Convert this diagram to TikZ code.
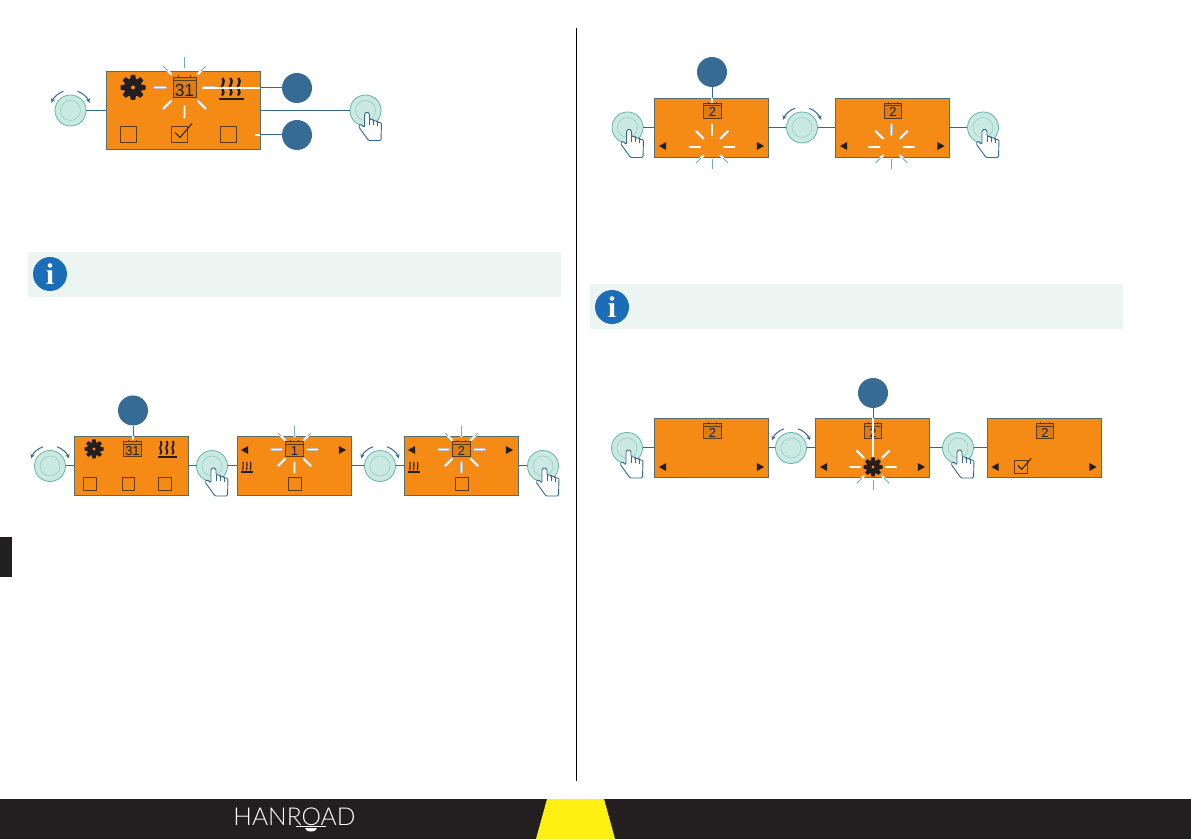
\documentclass[tikz,border=0pt]{standalone}
\usepackage{fontspec}
\setmainfont{Liberation Sans}
\newfontfamily\infofont{Liberation Serif}
\newfontfamily\logofont{Lato Light}
\definecolor{panelorange}{HTML}{F58A14}
\definecolor{panelline}{HTML}{566F6E}
\definecolor{badgeblue}{HTML}{356B95}
\definecolor{linkblue}{HTML}{35688C}
\definecolor{knobfill}{HTML}{C9E9E1}
\definecolor{knobline}{HTML}{63B5A9}
\definecolor{rayteal}{HTML}{6FAFAF}
\definecolor{inkbrown}{HTML}{5E3A18}
\definecolor{inkdark}{HTML}{231F20}
\definecolor{infopanel}{HTML}{EDF5F3}
\definecolor{infoblue}{HTML}{1B6DB8}
\definecolor{footyellow}{HTML}{FFF014}
\tikzset{
  bigscreen/.style={draw=panelline, fill=panelorange, line width=.9pt, inner sep=0pt, minimum width=154pt, minimum height=78pt},
  screen/.style={draw=panelline, fill=panelorange, line width=.9pt, inner sep=0pt, minimum width=114pt, minimum height=59pt},
  knob/.style={circle, draw=knobline, fill=knobfill, line width=.8pt, inner sep=0pt, minimum size=31pt,
    path picture={\draw[knobline!70, line width=.5pt] (path picture bounding box.center) circle (10pt);}},
  badge/.style={circle, fill=badgeblue, inner sep=0pt, minimum size=30pt},
  link/.style={draw=linkblue, line width=1pt},
  leadin/.style={draw=gray!40, double=white, line width=.3pt, double distance=1.8pt},
  rayin/.style={draw=gray!50, double=white, line width=.5pt, double distance=1.5pt, line cap=round},
  rayout/.style={draw=rayteal, line width=.8pt},
  boxmark/.style={draw=inkbrown, line width=.9pt},
  infotile/.style={fill=infopanel, inner sep=0pt, minimum width=533pt, minimum height=45pt},
  infoicon/.style={circle, fill=infoblue, text=white, inner sep=0pt, minimum size=34pt, font=\infofont\bfseries\fontsize{30}{30}\selectfont},
  pics/calendar/.style={code={
    \draw[draw=inkbrown, fill=panelorange!90!black, line width=1pt] (-11.5,-10.5) rectangle (11.5,9.5);
    \draw[draw=inkbrown, line width=1pt] (-11.5,6.5) -- (11.5,6.5) (-6,9.5) -- (-6,12) (6,9.5) -- (6,12);
    \node[text=inkdark, font=\fontsize{17.5}{17.5}\selectfont, inner sep=0pt] (-num) at (0,-2.5) {#1};
  }},
  pics/gear/.style={code={
    \fill[inkdark] (0,0) circle (9);
    \foreach \a in {0,45,...,315}
      \fill[inkdark, rotate=\a] (-3,8) -- (-2.2,12.5) -- (2.2,12.5) -- (3,8) -- cycle;
    \fill[panelorange] (0,0) circle (2);
  }},
  pics/heat/.style={code={
    \draw[inkdark, line width=#1] (-12.5,0) -- (12.5,0);
    \foreach \x in {-8,0,8}
      \draw[inkdark, line width=#1] (\x-1,3.5) .. controls (\x+3.5,8) and (\x-4,11) .. (\x,15) .. controls (\x+1.5,17) and (\x+.5,19) .. (\x-.5,21);
  }},
  pics/tickbox/.style={code={
    \draw[boxmark] (-8,-8) rectangle (8,8);
  }},
  pics/tickmark/.style={code={
    \draw[inkdark, line width=1pt] (-4,2) -- (1,-3) -- (13,11);
  }},
  pics/navleft/.style={code={\fill[inkdark] (-3.6,0) -- (3.6,4) -- (3.6,-4) -- cycle;}},
  pics/navright/.style={code={\fill[inkdark] (3.6,0) -- (-3.6,4) -- (-3.6,-4) -- cycle;}},
  pics/spinmarks/.style={code={
    \draw[linkblue, line width=1pt, ->, >=stealth] (110:20.5) arc (110:158:20.5);
    \draw[linkblue, line width=1pt, ->, >=stealth] (70:20.5) arc (70:22:20.5);
  }},
  pics/hand/.style={code={
    \draw[linkblue, fill=white, line width=.9pt, line join=round, rounded corners=1.2pt]
      (3,-30) -- (-7,-16) -- (-5,-13.5) -- (-1,-17) -- (-1,-3) -- (1.5,-1.5) -- (4,-3) -- (4,-9) -- (8,-9)
      -- (8,-10.5) -- (12,-10.5) -- (12,-12) -- (16,-12) -- (15.5,-30) -- cycle;
    \draw[linkblue, line width=.7pt] (4,-9) -- (4,-15) (8,-10) -- (8,-15) (12,-12) -- (12,-16);
  }},
}
\newcommand{\burstat}[4]{%
  \foreach \a in {0,45,...,315}
    \draw[rayout] (#1) ++(\a:#3) -- ++(\a:#4-#3);
  \begin{scope}
    \clip (#2.south west) rectangle (#2.north east);
    \foreach \a in {0,45,...,315}
      \draw[rayin] (#1) ++(\a:#3) -- ++(\a:#4-#3);
  \end{scope}}
\begin{document}
\begin{tikzpicture}[x=1pt,y=1pt]
\useasboundingbox (0,0) rectangle (1191,839);
% page furniture
\fill[inkdark] (0,0) rectangle (1191,40);
\fill[footyellow] (536,0) -- (547,40) -- (604,40) -- (615,0) -- cycle;
\fill[inkdark] (0,262) rectangle (12,302);
\coordinate (ruletop) at (576,811);
\coordinate (rulebot) at (576,58);
\draw[black, line width=.6pt] (ruletop) -- (rulebot);
\node[text=white, font=\logofont\fontsize{24.6}{24.6}\selectfont, inner sep=0pt] (logo) at (294.5,22) {HANROAD};
\fill[white] (296,13.2) rectangle (326,12.4);
\fill[white] (305,11) arc (180:360:6 and 3.5) -- cycle;
% info tiles
\node[infotile] (infoA) at (294.5,564.5) {};
\node[infoicon] (iconA) at (50,565) {i};
\node[infotile] (infoB) at (856.5,532) {};
\node[infoicon] (iconB) at (612,532) {i};
% screens
\node[bigscreen] (scrA) at (183,728.5) {};
\node[screen] (scrB) at (131,373) {};
\node[screen] (scrC) at (294.5,373) {};
\node[screen] (scrD) at (461.5,373) {};
\node[screen] (scrE) at (711,711.5) {};
\node[screen] (scrF) at (892.5,711.5) {};
\node[screen] (scrG) at (711,391) {};
\node[screen] (scrH) at (872,391) {};
\node[screen] (scrI) at (1044.5,391) {};
% knobs
\node[knob] (spinA) at (70.5,728.5) {};
\node[knob] (pressA) at (365.5,728.5) {};
\node[knob] (spinB) at (50,373) {};
\node[knob] (pressB) at (212,373) {};
\node[knob] (spinC) at (380,373) {};
\node[knob] (pressD) at (543,373) {};
\node[knob] (pressE) at (627.5,711.5) {};
\node[knob] (spinE) at (802,711.5) {};
\node[knob] (pressF) at (983,711.5) {};
\node[knob] (pressG) at (627,391) {};
\node[knob] (spinG) at (791,391) {};
\node[knob] (pressH) at (958,391) {};
% links
\draw[link] (spinA) -- (scrA);
\draw[link] (scrA) -- (pressA);
\draw[link] (spinB) -- (scrB);
\draw[link] (scrB) -- (pressB);
\draw[link] (pressB) -- (scrC);
\draw[link] (scrC) -- (spinC);
\draw[link] (spinC) -- (scrD);
\draw[link] (scrD) -- (pressD);
\draw[link] (pressE) -- (scrE);
\draw[link] (scrE) -- (spinE);
\draw[link] (spinE) -- (scrF);
\draw[link] (scrF) -- (pressF);
\draw[link] (pressG) -- (scrG);
\draw[link] (scrG) -- (spinG);
\draw[link] (spinG) -- (scrH);
\draw[link] (scrH) -- (pressH);
\draw[link] (pressH) -- (scrI);
% knob marks
\foreach \k in {spinA,spinB,spinC,spinE,spinG} \pic at (\k) {spinmarks};
\foreach \k in {pressA,pressB,pressD,pressE,pressF,pressG,pressH} \pic at (\k) {hand};
% first screen
\pic (gearA) at (133,751.5) {gear};
\pic (calA) at (184.5,751.5) {calendar={31}};
\pic (heatA) at (231,740) {heat=2.4pt};
\pic (boxA) at (128,704.5) {tickbox};
\pic (boxB) at (179,704.5) {tickbox};
\pic (boxC) at (228,704.5) {tickbox};
\pic (markA) at (179,704.5) {tickmark};
\burstat{184.5,751.5}{scrA}{19}{30}
% second row
\pic[scale=.76] (gearB) at (94,390) {gear};
\pic[scale=.74, transform shape] (calB) at (132.5,390) {calendar={31}};
\pic[scale=.76] (heatB) at (167,382) {heat=1.8pt};
\pic[scale=.78] (boxD) at (90,355) {tickbox};
\pic[scale=.78] (boxE) at (128.5,355) {tickbox};
\pic[scale=.78] (boxF) at (165,355) {tickbox};
\pic[scale=.74, transform shape] (calC) at (294.5,390) {calendar={1}};
\pic[scale=.48] (heatC) at (247,367) {heat=1.1pt};
\pic[scale=.78] (boxG) at (295,355) {tickbox};
\pic (navA) at (244.5,389) {navleft};
\pic (navB) at (342.5,389) {navright};
\burstat{294.5,389.5}{scrC}{13}{23}
\pic[scale=.74, transform shape] (calD) at (461.5,390) {calendar={2}};
\pic[scale=.48] (heatD) at (414,367) {heat=1.1pt};
\pic[scale=.78] (boxH) at (462,355) {tickbox};
\pic (navC) at (411.5,389) {navleft};
\pic (navD) at (509.5,389) {navright};
\burstat{461.5,389.5}{scrD}{13}{23}
% right column, top
\pic[scale=.74, transform shape] (calE) at (712.5,728.5) {calendar={2}};
\pic (navE) at (662.5,693) {navleft};
\pic (navF) at (760.5,693) {navright};
\burstat{712,692}{scrE}{12}{22.5}
\pic[scale=.74, transform shape] (calF) at (893,728.5) {calendar={2}};
\pic (navG) at (843.5,693) {navleft};
\pic (navH) at (941,693) {navright};
\burstat{891.5,692}{scrF}{12}{22.5}
% right column, bottom
\pic[scale=.74, transform shape] (calG) at (712.5,408) {calendar={2}};
\pic (navI) at (662.5,372) {navleft};
\pic (navJ) at (760.5,372) {navright};
\pic[scale=.74, transform shape] (calH) at (873,408) {calendar={2}};
\pic (navK) at (823.5,372) {navleft};
\pic (navL) at (921.5,372) {navright};
\pic[scale=.76] (gearC) at (873,372) {gear};
\burstat{873,372}{scrH}{13}{23}
\pic[scale=.74, transform shape] (calI) at (1045,408) {calendar={2}};
\pic (navM) at (995,372) {navleft};
\pic (navN) at (1093,372) {navright};
\pic[scale=.78] (boxI) at (1021,372) {tickbox};
\pic[scale=.78] (markB) at (1021,372) {tickmark};
% badges and leads
\node[badge] (badA) at (297,751) {};
\node[badge] (badB) at (297,704) {};
\node[badge] (badC) at (133,428.5) {};
\node[badge] (badD) at (712,767) {};
\node[badge] (badE) at (873,446) {};
\coordinate (dotA) at (202,751);
\coordinate (dotB) at (255,704);
\coordinate (dotC) at (133,399);
\coordinate (dotD) at (712,736);
\coordinate (dotE) at (873,382);
\draw[leadin] (scrA.east |- badA) -- (dotA);
\draw[link] (badA) -- (scrA.east |- badA);
\draw[leadin] (scrA.east |- badB) -- (dotB);
\draw[link] (badB) -- (scrA.east |- badB);
\draw[link] (badC) -- (badC |- scrB.north);
\draw[leadin] (badC |- scrB.north) -- (dotC);
\draw[link] (badD) -- (badD |- scrE.north);
\draw[leadin] (badD |- scrE.north) -- (dotD);
\draw[link] (badE) -- (badE |- scrH.north);
\draw[leadin] (badE |- scrH.north) -- (dotE);
\end{tikzpicture}
\end{document}
